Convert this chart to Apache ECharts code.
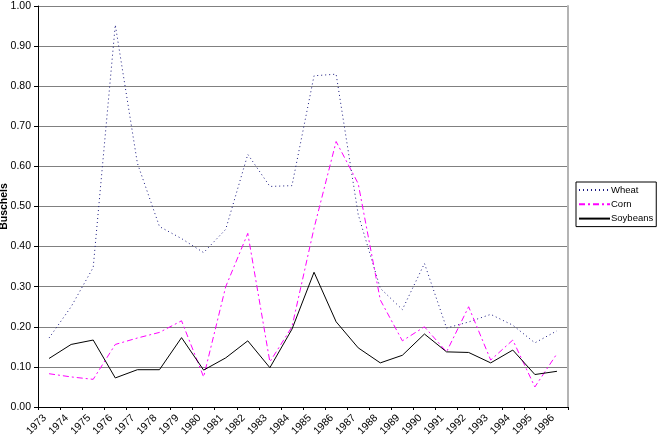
<!DOCTYPE html>
<html>
<head>
<meta charset="utf-8">
<script src="https://cdn.jsdelivr.net/npm/echarts@6/dist/echarts.min.js"></script>
<style>html,body{margin:0;padding:0;background:#fff;}#c{width:657px;height:445px;}</style>
</head>
<body>
<div id="c"></div>
<script>
var years = ['1973','1974','1975','1976','1977','1978','1979','1980','1981','1982','1983','1984','1985','1986','1987','1988','1989','1990','1991','1992','1993','1994','1995','1996'];
var wheat = [0.172,0.25,0.348,0.953,0.608,0.45,0.42,0.385,0.443,0.63,0.55,0.552,0.826,0.83,0.48,0.296,0.243,0.358,0.197,0.212,0.231,0.204,0.16,0.19];
var corn = [0.083,0.075,0.069,0.156,0.172,0.186,0.215,0.075,0.30,0.433,0.1125,0.20,0.446,0.662,0.557,0.267,0.165,0.20,0.1375,0.25,0.117,0.167,0.05,0.133];
var soybeans = [0.121,0.156,0.167,0.0725,0.093,0.093,0.173,0.092,0.1225,0.165,0.098,0.194,0.336,0.2125,0.1475,0.11,0.129,0.182,0.1375,0.136,0.11,0.142,0.081,0.089];
var seriesNames = ['Wheat','Corn','Soybeans'];
var yTicks = {min: 0, max: 1, interval: 0.1};

var chart = echarts.init(document.getElementById('c'), null, {renderer: 'canvas'});
var font = 'Liberation Sans, Arial, sans-serif';
chart.setOption({
  animation: false,
  backgroundColor: '#fff',
  grid: {left: 38, right: 89, top: 6, bottom: 38, containLabel: false, outerBoundsMode: 'none'},
  legend: {
    orient: 'vertical', left: 576, top: 182,
    data: seriesNames,
    backgroundColor: '#fff', borderColor: '#000', borderWidth: 1,
    padding: [3, 3, 3, 2], itemGap: 4.3, itemWidth: 31, itemHeight: 12,
    itemStyle: {opacity: 0},
    textStyle: {fontFamily: font, fontSize: 9.5, color: '#000', padding: [0,0,0,-4]}
  },
  xAxis: {
    type: 'category', data: years, boundaryGap: true,
    axisLine: {lineStyle: {color: '#000', width: 1}},
    axisTick: {show: true, length: 3, lineStyle: {color: '#000'}},
    axisLabel: {rotate: 45, margin: 5, fontFamily: font, fontSize: 10.5, color: '#000', interval: 0, padding: [0, 6, 0, 0]},
    splitLine: {show: false}
  },
  yAxis: [{
    type: 'value', min: yTicks.min, max: yTicks.max, interval: yTicks.interval,
    name: 'Buschels', nameLocation: 'middle', nameGap: 28, nameRotate: 90, nameMoveOverlap: false,
    nameTextStyle: {fontFamily: font, fontSize: 10.5, fontWeight: 'bold', color: '#000'},
    axisLine: {show: true, lineStyle: {color: '#000', width: 1}},
    axisTick: {show: true, length: 4, lineStyle: {color: '#000'}},
    axisLabel: {margin: 7, fontFamily: font, fontSize: 10.5, color: '#000', formatter: function(v){return v.toFixed(2);}},
    splitLine: {show: true, lineStyle: {color: '#808080', width: 1}}
  }, {
    type: 'value', position: 'right', min: 0, max: 1, interval: 0.1,
    axisLine: {show: true, lineStyle: {color: '#b4b4b4', width: 2}},
    axisTick: {show: false}, axisLabel: {show: false}, splitLine: {show: false}
  }],
  series: [
    {name: 'Wheat', type: 'line', data: wheat, symbol: 'none', lineStyle: {color: '#1a1a80', width: 1, type: [1, 3]}, itemStyle: {color: '#1a1a80'}},
    {name: 'Corn', type: 'line', data: corn, symbol: 'none', lineStyle: {color: '#ff00ff', width: 1, type: [6, 3, 2, 3]}, itemStyle: {color: '#ff00ff'}},
    {name: 'Soybeans', type: 'line', data: soybeans, symbol: 'none', lineStyle: {color: '#000', width: 1, type: 'solid'}, itemStyle: {color: '#000'}}
  ]
});
</script>
</body>
</html>
